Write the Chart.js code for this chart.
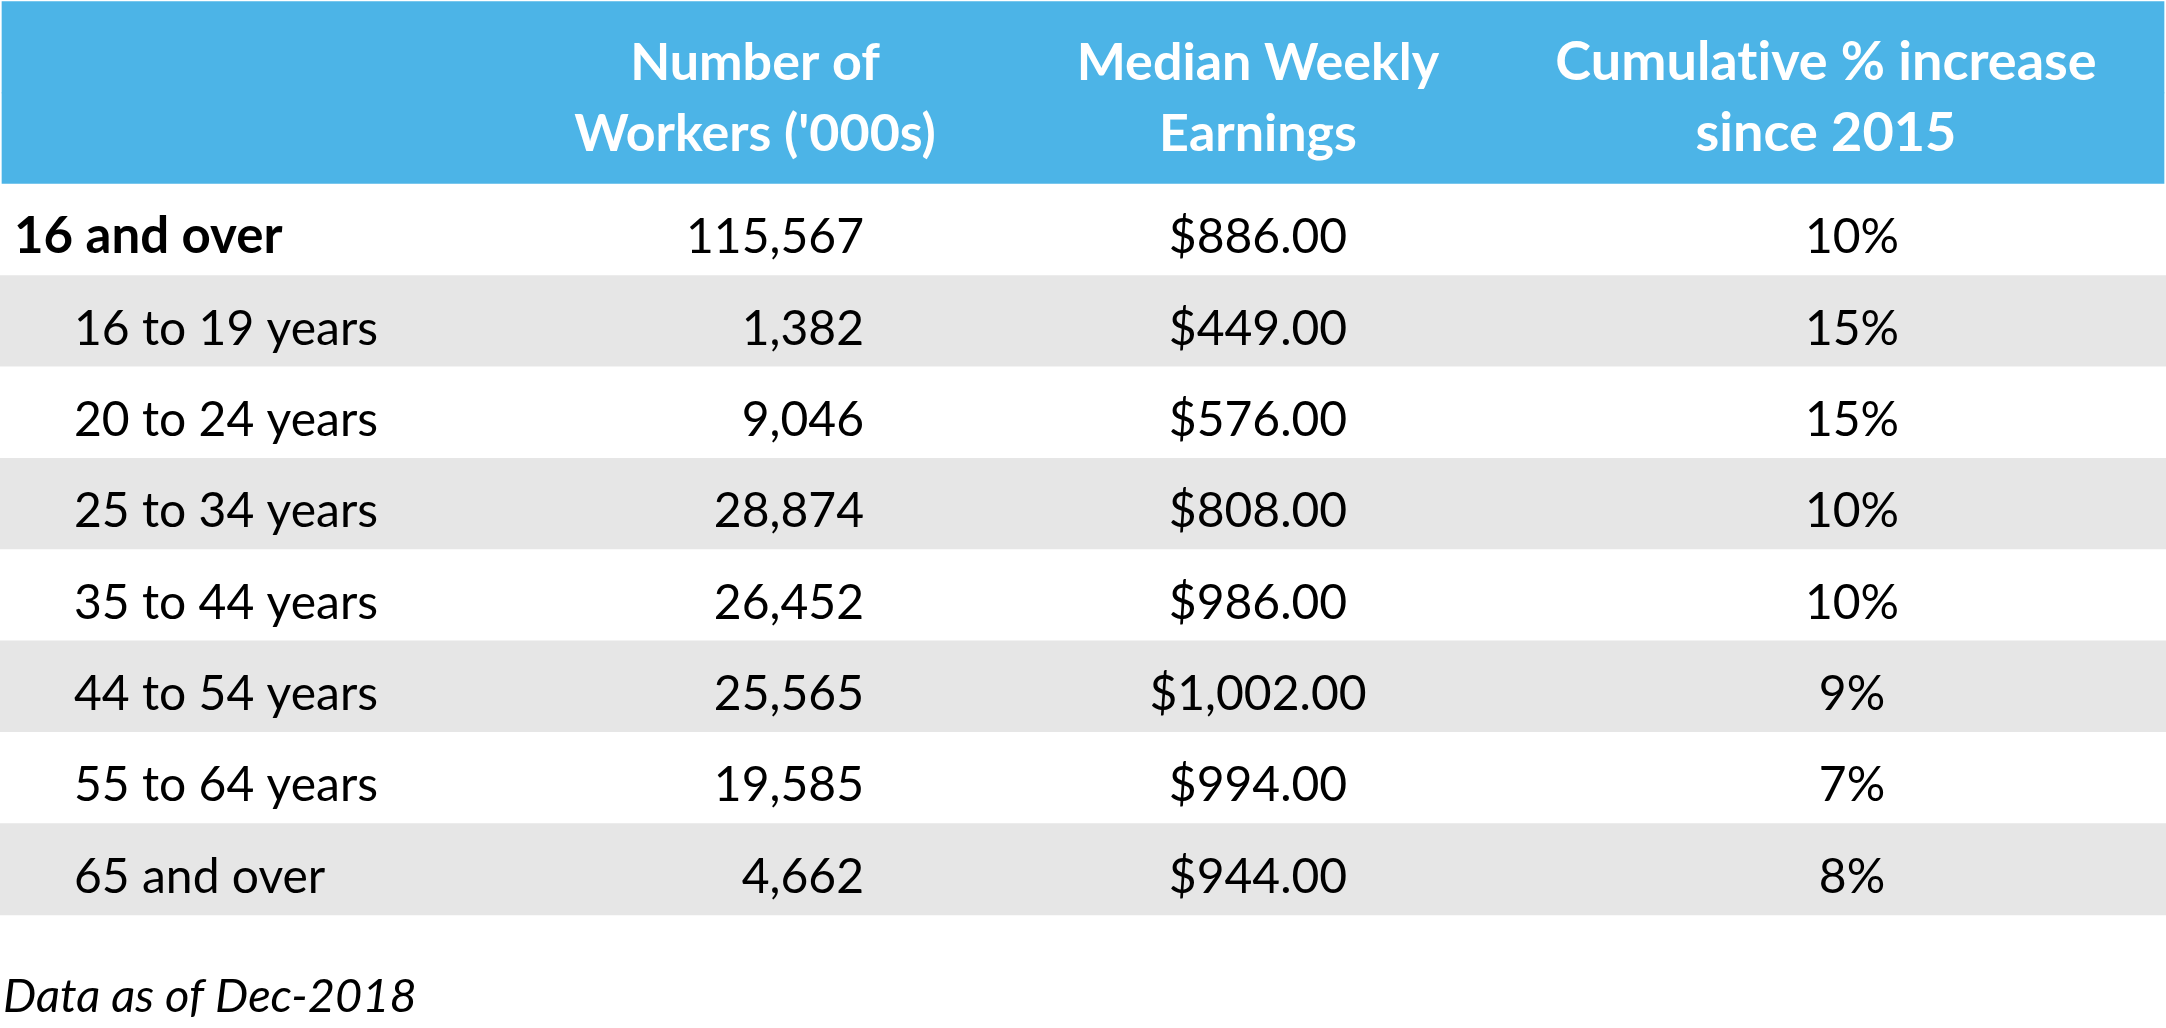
<!DOCTYPE html>
<html>
<head>
<meta charset="utf-8">
<script src="https://cdn.jsdelivr.net/npm/chart.js@4.4.1/dist/chart.umd.min.js"></script>
<style>
  html, body { margin: 0; padding: 0; background: #fff; }
  #wrap { width: 2166px; height: 1028px; position: relative; }
</style>
</head>
<body>
<div id="wrap"><canvas id="chart"></canvas></div>
<script>
'use strict';

// table data
var ageGroups = ['16 and over', '16 to 19 years', '20 to 24 years', '25 to 34 years',
                 '35 to 44 years', '44 to 54 years', '55 to 64 years', '65 and over'];
var workers = [115567, 1382, 9046, 28874, 26452, 25565, 19585, 4662];
var weeklyEarnings = [886, 449, 576, 808, 986, 1002, 994, 944];
var pctIncrease = [10, 15, 15, 10, 10, 9, 7, 8];
var headers = [['Number of', "Workers ('000s)"], ['Median Weekly', 'Earnings'], ['Cumulative % increase', 'since 2015']];
var footnote = 'Data as of Dec-2018';

// layout (x in canvas units, y in row units)
var BLUE = '#4cb4e7', GRAY = '#e6e6e6';
var FONT = 'Lato, "Open Sans", sans-serif';
var headerCenters = [755, 1258, 1826];
var headerSizes = [52, 52, 54];
var labelX = 74, totalLabelX = 14, workersRight = 864, earningsCenter = 1258, pctCenter = 1852;

// one stripe per row: two for the header, then the table rows
var stripeData = [], stripeColors = [];
[-2, -1].forEach(function (r) {
    stripeData.push({ x: [2, 2164], y: r + 0.5 });
    stripeColors.push(BLUE);
});
ageGroups.forEach(function (g, i) {
    stripeData.push({ x: [0, 2166], y: i + 0.5 });
    stripeColors.push(i % 2 === 1 ? GRAY : '#ffffff');
});

var fmtInt = function (v) { return v.toLocaleString('en-US'); };
var fmtMoney = function (v) { return '$' + v.toLocaleString('en-US', { minimumFractionDigits: 2, maximumFractionDigits: 2 }); };

var tableText = {
    id: 'tableText',
    afterDatasetsDraw: function (chart) {
        var c = chart.ctx, x = chart.scales.x, y = chart.scales.y;
        c.save();
        c.textBaseline = 'alphabetic';
        c.letterSpacing = '0.01px'; // keeps Lato from joining "ti"

        // header
        c.fillStyle = '#ffffff';
        c.textAlign = 'center';
        headers.forEach(function (lines, k) {
            c.font = 'bold ' + headerSizes[k] + 'px ' + FONT;
            c.fillText(lines[0], x.getPixelForValue(headerCenters[k]), y.getPixelForValue(-1.141));
            c.fillText(lines[1], x.getPixelForValue(headerCenters[k]), y.getPixelForValue(-0.363));
        });

        // body
        c.fillStyle = '#000000';
        ageGroups.forEach(function (g, i) {
            var base = y.getPixelForValue(i + 0.755);
            c.font = (i === 0 ? 'bold 51px ' : '48px ') + FONT;
            c.textAlign = 'left';
            c.fillText(g, x.getPixelForValue(i === 0 ? totalLabelX : labelX), base);
            c.font = '48px ' + FONT;
            c.textAlign = 'right';
            c.fillText(fmtInt(workers[i]), x.getPixelForValue(workersRight), base);
            c.textAlign = 'center';
            c.fillText(fmtMoney(weeklyEarnings[i]), x.getPixelForValue(earningsCenter), base);
            c.fillText(pctIncrease[i] + '%', x.getPixelForValue(pctCenter), base);
        });

        // footnote
        c.font = 'italic 47px ' + FONT;
        c.textAlign = 'left';
        c.fillText(footnote, x.getPixelForValue(3), y.getPixelForValue(9.062));
        c.restore();
    }
};

var ctx = document.getElementById('chart').getContext('2d');
var chart = new Chart(ctx, {
    type: 'bar',
    data: {
        datasets: [{
            label: 'rows',
            data: stripeData,
            backgroundColor: stripeColors,
            borderWidth: 0,
            barPercentage: 1,
            categoryPercentage: 1
        }]
    },
    options: {
        indexAxis: 'y',
        responsive: true,
        maintainAspectRatio: false,
        animation: false,
        layout: { padding: 0 },
        plugins: { legend: { display: false }, tooltip: { enabled: false } },
        scales: {
            x: { type: 'linear', min: 0, max: 2166, display: false },
            y: {
                type: 'linear', reverse: true, min: -2.0164, max: 9.237, display: false,
                afterBuildTicks: function (s) { s.ticks = []; }
            }
        }
    },
    plugins: [tableText]
});
</script>
</body>
</html>
